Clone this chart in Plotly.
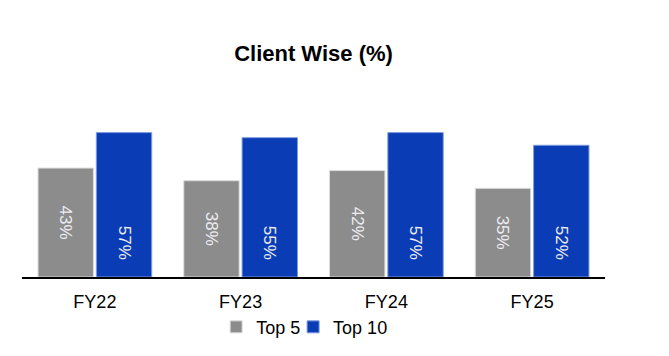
import plotly.graph_objects as go

categories = ["FY22", "FY23", "FY24", "FY25"]
top5 = [43, 38, 42, 35]
top10 = [57, 55, 57, 52]
top5_labels = ["43%", "38%", "42%", "35%"]
top10_labels = ["57%", "55%", "57%", "52%"]

GREY = "#8c8c8c"
BLUE = "#0a3db5"
FONT = "Liberation Sans, Arial, sans-serif"
PAD = "\u00a0" * 3

fig = go.Figure()
fig.add_trace(go.Bar(
    x=categories, y=top5, name="Top 5", marker_color=GREY,
    marker_line=dict(color="#dcdcdc", width=1),
    text=top5_labels, textposition="inside", insidetextanchor="middle",
    textangle=90, textfont=dict(color="#ececf2", size=17, family=FONT),
    hoverinfo="skip", legend="legend",
))
fig.add_trace(go.Bar(
    x=categories, y=top10, name="Top 10", marker_color=BLUE,
    marker_line=dict(color="#7f9be0", width=1),
    text=[t + PAD for t in top10_labels], textposition="inside", insidetextanchor="start",
    textangle=90, textfont=dict(color="#ececf2", size=17, family=FONT),
    hoverinfo="skip", legend="legend2",
))

legend_common = dict(orientation="h", y=-0.33, yanchor="middle", xanchor="left",
                     font=dict(size=18, family=FONT), itemwidth=30, itemclick=False,
                     bgcolor="rgba(0,0,0,0)")

fig.update_layout(
    width=669, height=356,
    margin=dict(l=14, r=72, t=117, b=87),
    paper_bgcolor="white", plot_bgcolor="white",
    barmode="group", bargap=0.2, bargroupgap=0.05,
    font=dict(family=FONT, color="black"),
    title=dict(text="<b>Client Wise (%)</b>", x=0.5, xref="paper", xanchor="center",
               y=1 - 45 / 356, yanchor="middle", font=dict(size=22, family=FONT, color="black")),
    showlegend=True,
    legend=dict(x=0.333, **legend_common),
    legend2=dict(x=0.465, **legend_common),
)
fig.update_xaxes(showline=True, linecolor="black", linewidth=1.5, showgrid=False,
                 ticks="outside", ticklen=8, tickcolor="rgba(0,0,0,0)",
                 tickfont=dict(size=18, family=FONT, color="black"))
fig.update_yaxes(range=[0, 60], visible=False, showgrid=False, zeroline=False)

fig.write_html("out.html")
